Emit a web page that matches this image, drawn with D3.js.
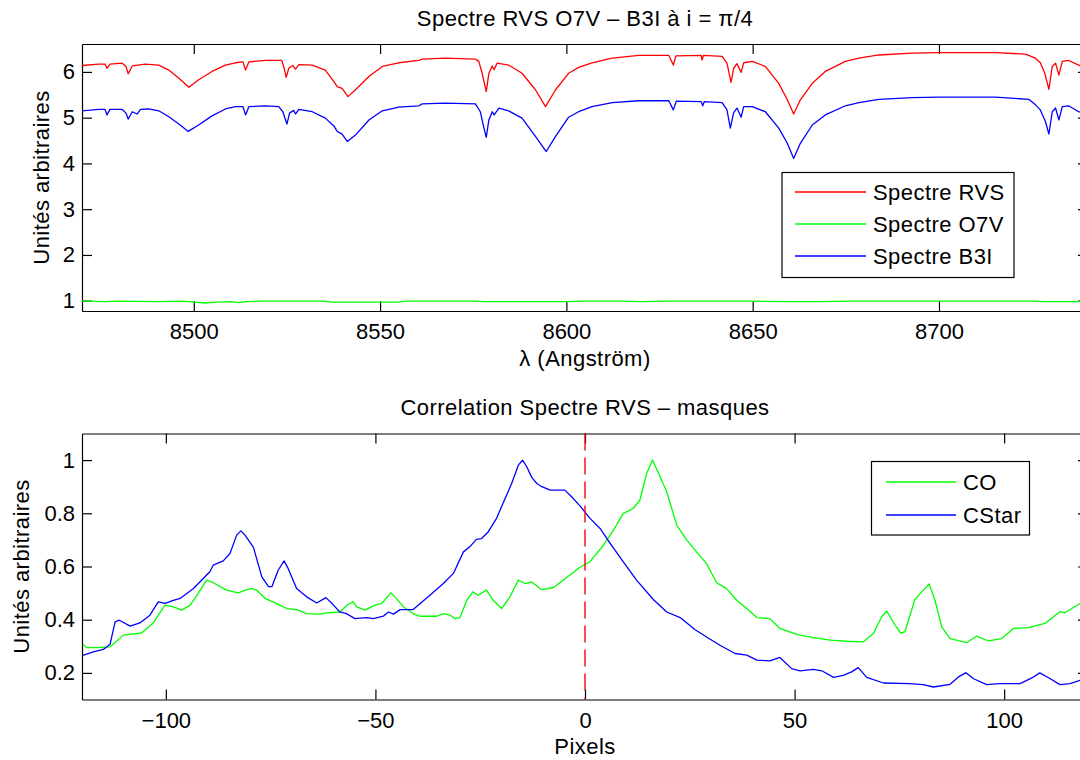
<!DOCTYPE html>
<html>
<head>
<meta charset="utf-8">
<script src="https://cdn.jsdelivr.net/npm/d3@7"></script>
<style>
  body { margin: 0; background: #fff; }
  svg text { font-family: "Liberation Sans", Arial, sans-serif; font-size: 22px; fill: #000; }
  svg text.label { letter-spacing: 0.45px; }
</style>
</head>
<body>
<div id="chart"></div>
<script>
// tick values
const lambdaTicks = [8500, 8550, 8600, 8650, 8700];
const fluxTicks = [1, 2, 3, 4, 5, 6];
const pixelTicks = [-100, -50, 0, 50, 100];
const corrTicks = [0.2, 0.4, 0.6, 0.8, 1];

// spectra : [lambda (A), flux]
const spectreRVS = [
  [8470, 6.14], [8474.5, 6.17], [8476.2, 6.17], [8476.7, 6.08], [8477.5, 6.17], [8480.8, 6.19],
  [8481.8, 6.12], [8482.4, 5.96], [8483.5, 6.13], [8487, 6.17], [8490.6, 6.15], [8493.3, 6.04],
  [8496, 5.86], [8498.7, 5.665], [8501.3, 5.83], [8504.9, 6.01], [8508.5, 6.15], [8511.2, 6.2],
  [8513.2, 6.22], [8513.9, 6.04], [8514.8, 6.22], [8519.2, 6.25], [8523.6, 6.25], [8524.2, 6.1],
  [8524.8, 5.88], [8525.5, 6.08], [8526.6, 6.14], [8527.3, 6.06], [8528.2, 6.16], [8531.8, 6.15],
  [8535.3, 6.04], [8537.6, 5.79], [8538.5, 5.68], [8539.8, 5.64], [8541.4, 5.46], [8543.4, 5.61],
  [8547, 5.9], [8550.6, 6.12], [8555, 6.2], [8560.4, 6.25], [8561.3, 6.28], [8567.5, 6.3],
  [8575.6, 6.28], [8576.5, 6.23], [8577.4, 5.97], [8578.5, 5.57], [8579.2, 5.97], [8580.1, 6.13],
  [8580.6, 6.05], [8581.4, 6.19], [8584.5, 6.15], [8588.1, 5.97], [8591.7, 5.61], [8594.4, 5.24],
  [8597.1, 5.61], [8600.6, 5.97], [8603.3, 6.1], [8606.9, 6.2], [8612.3, 6.3], [8619.4, 6.36],
  [8627.5, 6.36], [8628.7, 6.15], [8629.4, 6.35], [8636.2, 6.36], [8636.4, 6.26], [8636.8, 6.36],
  [8641.8, 6.34], [8643.1, 6.19], [8644.2, 5.77], [8644.9, 6.08], [8645.8, 6.18], [8646.9, 5.99],
  [8647.6, 6.2], [8649.9, 6.23], [8653.4, 6.12], [8657, 5.75], [8659.3, 5.39], [8661, 5.08],
  [8662.8, 5.39], [8666, 5.75], [8669.5, 6.01], [8674.9, 6.23], [8678.5, 6.3], [8683.9, 6.37],
  [8692.8, 6.41], [8700, 6.42], [8707.1, 6.42], [8715.2, 6.42], [8723.2, 6.39], [8725.9, 6.3],
  [8727.2, 6.2], [8728.4, 5.97], [8729.5, 5.62], [8730.4, 6.12], [8731.3, 6.19], [8732.2, 5.93],
  [8733.1, 6.23], [8734.8, 6.25], [8737.5, 6.15], [8740, 6.08]
];

const spectreO7V = [
  [8470, 0.99], [8476, 0.98], [8480, 0.99], [8490, 0.98], [8497, 0.99], [8500, 0.97], [8503, 0.95],
  [8506, 0.97], [8510, 0.98], [8512, 0.96], [8514, 0.98], [8518, 0.99], [8535, 0.99], [8537, 0.97],
  [8550, 0.97], [8555, 0.97], [8557, 0.99], [8575, 0.99], [8578, 0.98], [8590, 0.98], [8600, 0.98],
  [8605, 0.99], [8615, 0.99], [8620, 0.98], [8628, 0.99], [8640, 0.99], [8650, 0.99], [8660, 0.98],
  [8668, 0.98], [8676, 0.99], [8690, 0.99], [8700, 0.99], [8725, 0.99], [8728, 0.98], [8740, 0.98]
];

const spectreB3I = [
  [8470, 5.15], [8474.5, 5.18], [8476.2, 5.18], [8476.7, 5.06], [8477.5, 5.18], [8480.8, 5.18],
  [8481.8, 5.1], [8482.4, 4.97], [8483.5, 5.13], [8484.8, 5.08], [8485.7, 5.18], [8487.9, 5.19],
  [8490.6, 5.15], [8493.3, 5.02], [8496, 4.86], [8498.5, 4.7], [8501.3, 4.84], [8504.9, 5.04],
  [8508.5, 5.19], [8511.2, 5.24], [8513.2, 5.24], [8513.9, 5.06], [8514.8, 5.24], [8519.2, 5.26],
  [8522.8, 5.24], [8523.9, 5.13], [8525, 4.86], [8525.7, 5.1], [8526.8, 5.16], [8527.3, 5.08],
  [8528.2, 5.18], [8531.8, 5.13], [8535.3, 4.99], [8537.6, 4.82], [8538.5, 4.7], [8539.8, 4.64],
  [8541.2, 4.48], [8543.4, 4.62], [8547, 4.95], [8550.6, 5.15], [8555, 5.23], [8560.4, 5.26],
  [8561.3, 5.3], [8567.5, 5.32], [8575.6, 5.3], [8576.9, 5.13], [8577.8, 4.8], [8578.5, 4.57],
  [8579.2, 4.95], [8580.1, 5.13], [8580.6, 5.06], [8581.9, 5.21], [8584.5, 5.15], [8588.1, 4.99],
  [8591.7, 4.59], [8594.6, 4.26], [8597.1, 4.59], [8600.6, 5.01], [8603.3, 5.13], [8606.9, 5.24],
  [8612.3, 5.33], [8619.4, 5.37], [8627.5, 5.37], [8628.7, 5.17], [8629.5, 5.36], [8636.2, 5.35],
  [8636.6, 5.26], [8637, 5.35], [8641.8, 5.33], [8643.1, 5.17], [8644, 4.77], [8644.9, 5.11],
  [8645.8, 5.21], [8646.9, 5.01], [8647.6, 5.24], [8649.9, 5.24], [8653.4, 5.13], [8657, 4.77],
  [8659.3, 4.44], [8661, 4.11], [8662.8, 4.44], [8666, 4.84], [8669.5, 5.06], [8674.9, 5.26],
  [8678.5, 5.33], [8683.9, 5.4], [8692.8, 5.44], [8700, 5.45], [8715.2, 5.45], [8724.1, 5.4],
  [8725.9, 5.28], [8727.2, 5.17], [8728.6, 4.91], [8729.5, 4.64], [8730.4, 5.13], [8731.3, 5.21],
  [8732.2, 4.95], [8733.1, 5.24], [8734.8, 5.26], [8737.5, 5.13], [8740, 5.08]
];

// correlations : [pixel, value]
const correlCO = [
  [-119.8, 0.308], [-118.9, 0.295], [-116.5, 0.295], [-113.3, 0.298], [-110.1, 0.342], [-108.6, 0.345],
  [-105.8, 0.35], [-103, 0.388], [-100.2, 0.455], [-98.2, 0.448], [-96.2, 0.436], [-94.2, 0.455],
  [-92.3, 0.498], [-90.3, 0.549], [-88.7, 0.539], [-85.5, 0.511], [-82.7, 0.501], [-80.7, 0.513],
  [-79.5, 0.517], [-78.3, 0.511], [-76.3, 0.48], [-72.8, 0.455], [-71.2, 0.442], [-68.8, 0.438],
  [-66.4, 0.423], [-63.2, 0.421], [-61.6, 0.426], [-58.5, 0.429], [-56.5, 0.458], [-55.3, 0.467],
  [-54.5, 0.448], [-52.5, 0.436], [-50.1, 0.455], [-48.5, 0.461], [-46.3, 0.501], [-45, 0.48],
  [-43.3, 0.448], [-41, 0.423], [-39.4, 0.413], [-35.4, 0.413], [-33.8, 0.423], [-32.2, 0.417],
  [-31, 0.404], [-29.8, 0.408], [-28.2, 0.473], [-26.8, 0.505], [-25.5, 0.492], [-23.5, 0.511],
  [-21.9, 0.473], [-19.9, 0.442], [-17.9, 0.486], [-15.9, 0.549], [-14.3, 0.536], [-12.7, 0.542],
  [-10.3, 0.513], [-7.5, 0.521], [-3.6, 0.568], [-1.2, 0.597], [1.2, 0.618], [4.4, 0.68],
  [6.8, 0.737], [9.1, 0.799], [11.5, 0.818], [13.1, 0.85], [14.7, 0.95], [16.1, 1.0],
  [17.9, 0.937], [19.5, 0.881], [21.9, 0.755], [24.3, 0.699], [26.6, 0.655], [29, 0.611],
  [31.4, 0.539], [33.8, 0.517], [36.2, 0.473], [38.6, 0.442], [41, 0.408], [44.1, 0.404],
  [46.5, 0.367], [50.5, 0.345], [54.5, 0.333], [58.5, 0.323], [62.4, 0.319], [66.4, 0.317],
  [68.8, 0.348], [70.8, 0.411], [72, 0.432], [74, 0.379], [75.3, 0.35], [76.3, 0.354],
  [78.7, 0.476], [80.7, 0.511], [82.1, 0.534], [83.5, 0.473], [85.1, 0.373], [87.1, 0.329],
  [91.1, 0.314], [93.4, 0.338], [96.2, 0.32], [99.4, 0.329], [102.2, 0.367], [105.8, 0.37],
  [109.7, 0.386], [113.3, 0.43], [114.5, 0.426], [118.1, 0.461], [120, 0.47]
];

const correlCStar = [
  [-119.8, 0.266], [-117.3, 0.279], [-114.9, 0.288], [-113.3, 0.308], [-112.1, 0.392], [-111.1, 0.398],
  [-108.5, 0.376], [-106.2, 0.388], [-103.8, 0.417], [-101.8, 0.467], [-100.2, 0.461], [-98.2, 0.473],
  [-96.6, 0.48], [-93.4, 0.517], [-89.5, 0.58], [-88.7, 0.605], [-86.3, 0.621], [-84.7, 0.649],
  [-83.1, 0.718], [-82.1, 0.734], [-81.1, 0.718], [-79.1, 0.672], [-77.1, 0.561], [-75.5, 0.524],
  [-74.7, 0.524], [-73.2, 0.586], [-71.8, 0.621], [-70.8, 0.592], [-68.8, 0.517], [-66.4, 0.486],
  [-64, 0.463], [-61.8, 0.483], [-60, 0.455], [-58.5, 0.429], [-56.9, 0.423], [-54.9, 0.404],
  [-52.1, 0.408], [-50.5, 0.404], [-48.1, 0.413], [-46.9, 0.429], [-45.7, 0.421], [-44.1, 0.438],
  [-41, 0.438], [-37, 0.492], [-33.8, 0.536], [-31.4, 0.574], [-29, 0.655], [-27.5, 0.674],
  [-25.9, 0.702], [-24.7, 0.705], [-23.1, 0.73], [-21.1, 0.781], [-19.5, 0.84], [-17.5, 0.912],
  [-15.9, 0.981], [-14.9, 1.0], [-13.9, 0.975], [-12.7, 0.935], [-11.5, 0.912], [-10.3, 0.9],
  [-8.3, 0.887], [-4.8, 0.887], [-3.2, 0.862], [-1.2, 0.828], [1.2, 0.781], [3.6, 0.743],
  [6, 0.687], [9.1, 0.618], [12.3, 0.549], [16.3, 0.476], [19.5, 0.429], [22.7, 0.408],
  [26.2, 0.363], [29, 0.335], [32.2, 0.304], [35.8, 0.273], [38.6, 0.267], [41, 0.248],
  [44.1, 0.245], [46.5, 0.258], [49.3, 0.216], [51.3, 0.208], [54.5, 0.213], [56.5, 0.208],
  [59.3, 0.183], [61.6, 0.191], [63.6, 0.204], [65.2, 0.22], [67.2, 0.183], [71.2, 0.162],
  [77.5, 0.16], [80.7, 0.156], [83.1, 0.147], [87.1, 0.157], [89.1, 0.185], [90.9, 0.201],
  [92.6, 0.179], [95.8, 0.156], [99, 0.16], [103.8, 0.16], [106.6, 0.181], [108.5, 0.2],
  [110.9, 0.179], [113.3, 0.156], [115.7, 0.16], [118.1, 0.172], [120, 0.175]
];

const W = 1080, H = 760;

const svg = d3.select("#chart")
  .append("svg")
  .attr("width", W)
  .attr("height", H)
  .style("background-color", "white");

// one MATLAB-like axes box; the right edge runs past the picture like in the original
function drawPanel(cfg) {
  const { left, right, top, bottom, xDomain, yDomain, xTicks, yTicks, yFmt } = cfg;
  const x = d3.scaleLinear().domain(xDomain).range([left, right]);
  const y = d3.scaleLinear().domain(yDomain).range([bottom, top]);
  const g = svg.append("g");

  const clipId = "clip" + Math.round(top);
  g.append("clipPath").attr("id", clipId)
    .append("rect").attr("x", left).attr("y", top)
    .attr("width", right - left).attr("height", bottom - top);

  const style = sel => {
    sel.selectAll("path, line").attr("stroke", "#000").attr("stroke-width", 1.2);
    sel.selectAll("text").attr("font-size", null).attr("font-family", null);
  };

  g.append("g").attr("transform", `translate(0,${bottom})`)
    .call(d3.axisBottom(x).tickValues(xTicks).tickSize(-10).tickSizeOuter(0).tickPadding(12.5)
      .tickFormat(d3.format("d")))
    .call(style);
  g.append("g").attr("transform", `translate(0,${top})`)
    .call(d3.axisTop(x).tickValues(xTicks).tickSize(-10).tickSizeOuter(0).tickFormat(""))
    .call(style);
  g.append("g").attr("transform", `translate(${left},0)`)
    .call(d3.axisLeft(y).tickValues(yTicks).tickSize(-10).tickSizeOuter(0).tickPadding(7)
      .tickFormat(yFmt))
    .call(style);
  g.append("g").attr("transform", `translate(${right},0)`)
    .call(d3.axisRight(y).tickValues(yTicks).tickSize(-10).tickSizeOuter(0).tickFormat(""))
    .call(style);

  const line = d3.line().x(d => x(d[0])).y(d => y(d[1]));
  const plot = g.append("g").attr("clip-path", `url(#${clipId})`);
  cfg.series.forEach(s => {
    plot.append("path").datum(s.data)
      .attr("d", line)
      .attr("fill", "none")
      .attr("stroke", s.color)
      .attr("stroke-width", 1.3)
      .attr("stroke-linejoin", "round");
  });

  return { g, x, y, plot };
}

function drawLegend(g, box, items) {
  g.append("rect")
    .attr("x", box.x).attr("y", box.y)
    .attr("width", box.w).attr("height", box.h)
    .attr("fill", "#fff").attr("stroke", "#000").attr("stroke-width", 1.2);
  items.forEach((it, i) => {
    const cy = box.y0 + i * box.step;
    g.append("line")
      .attr("x1", box.lx1).attr("x2", box.lx2)
      .attr("y1", cy).attr("y2", cy)
      .attr("stroke", it.color).attr("stroke-width", 1.3);
    g.append("text").attr("class", "label")
      .attr("x", box.tx).attr("y", cy).attr("dy", "0.36em")
      .text(it.label);
  });
}

function addLabel(x, y, txt, rotate) {
  const t = svg.append("text").attr("class", "label").attr("text-anchor", "middle").text(txt);
  if (rotate) t.attr("transform", `translate(${x},${y}) rotate(-90)`);
  else t.attr("x", x).attr("y", y);
}

// ---- top panel : spectra ----
const spectraPanel = drawPanel({
  left: 82, right: 1088, top: 44, bottom: 311,
  xDomain: [8470, 8740], yDomain: [0.775, 6.61],
  xTicks: lambdaTicks, yTicks: fluxTicks, yFmt: d3.format("d"),
  series: [
    { data: spectreRVS, color: "#ff0000" },
    { data: spectreO7V, color: "#00ff00" },
    { data: spectreB3I, color: "#0000ff" }
  ]
});

drawLegend(spectraPanel.g,
  { x: 782, y: 172.5, w: 232, h: 105, y0: 192, step: 32, lx1: 795, lx2: 866, tx: 873 },
  [
    { label: "Spectre RVS", color: "#ff0000" },
    { label: "Spectre O7V", color: "#00ff00" },
    { label: "Spectre B3I", color: "#0000ff" }
  ]);

addLabel(585, 25.5, "Spectre RVS O7V \u2013 B3I \u00e0 i = \u03c0/4");
addLabel(585, 366, "\u03bb (Angstr\u00f6m)");
addLabel(49, 177.5, "Unit\u00e9s arbitraires", true);

// ---- bottom panel : correlation ----
const corrPanel = drawPanel({
  left: 82, right: 1088, top: 433.5, bottom: 699.5,
  xDomain: [-120, 120], yDomain: [0.1, 1.1],
  xTicks: pixelTicks, yTicks: corrTicks, yFmt: d => d === 1 ? "1" : d3.format(".1f")(d),
  series: [
    { data: correlCO, color: "#00ff00" },
    { data: correlCStar, color: "#0000ff" }
  ]
});

// dashed marker at zero shift
corrPanel.plot.append("line")
  .attr("x1", corrPanel.x(0)).attr("x2", corrPanel.x(0))
  .attr("y1", corrPanel.y(1.1)).attr("y2", corrPanel.y(0.1))
  .attr("stroke", "#ff0000").attr("stroke-width", 1.4)
  .attr("stroke-dasharray", "17,7");

drawLegend(corrPanel.g,
  { x: 871.5, y: 461.5, w: 158, h: 73.5, y0: 482, step: 33, lx1: 886, lx2: 956, tx: 963 },
  [
    { label: "CO", color: "#00ff00" },
    { label: "CStar", color: "#0000ff" }
  ]);

addLabel(585, 415, "Correlation Spectre RVS \u2013 masques");
addLabel(585, 754, "Pixels");
addLabel(29, 566.5, "Unit\u00e9s arbitraires", true);
</script>
</body>
</html>
